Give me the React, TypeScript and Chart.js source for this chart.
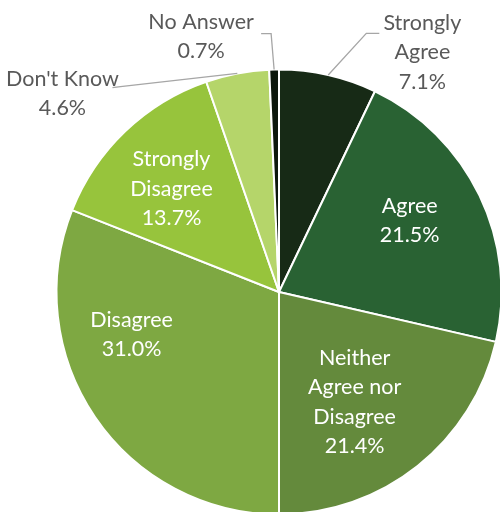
import React, { useEffect, useRef } from "react";
import { Chart, registerables } from "chart.js";

Chart.register(...registerables);

const categories = [
  "Strongly Agree",
  "Agree",
  "Neither Agree nor Disagree",
  "Disagree",
  "Strongly Disagree",
  "Don't Know",
  "No Answer",
];
const values = [7.1, 21.5, 21.4, 31.0, 13.7, 4.6, 0.7];
const labelLines = [
  ["Strongly", "Agree"],
  ["Agree"],
  ["Neither", "Agree nor", "Disagree"],
  ["Disagree"],
  ["Strongly", "Disagree"],
  ["Don't Know"],
  ["No Answer"],
];
const colors = ["#172a16", "#296233", "#648a3c", "#7ea842", "#97c43c", "#b5d56a", "#0c170c"];

// label placement relative to each arc: angle delta (deg) from arc middle, radius fraction, outside flag
const layout = [
  { d: 18.1, r: 1.255, out: true, leader: [[-56, -19], [-43, -19]] },
  { d: -3, r: 0.67, out: false },
  { d: 4, r: 0.6, out: false },
  { d: 18, r: 0.69, out: false },
  { d: -2.4, r: 0.67, out: false },
  { d: -36.7, r: 1.32, out: true, leader: [[58, -7], [50, -6]] },
  { d: -15.7, r: 1.2, out: true, leader: [[70, -3], [60, -3]] },
];

const FONT = "Lato, 'Open Sans', sans-serif";
const LINE_H = 29.3;

const labelPlugin = {
  id: "pieLabels",
  afterDraw(chart: any) {
    const ctx = chart.ctx;
    const meta = chart.getDatasetMeta(0);
    meta.data.forEach((arc: any, i: number) => {
      const { x, y, startAngle, endAngle, outerRadius } = arc.getProps(
        ["x", "y", "startAngle", "endAngle", "outerRadius"],
        true
      );
      const mid = (startAngle + endAngle) / 2;
      const L = layout[i];
      const a = mid + (L.d * Math.PI) / 180;
      const cx = x + Math.cos(a) * outerRadius * L.r;
      const cy = y + Math.sin(a) * outerRadius * L.r;
      ctx.save();
      if (L.out && L.leader) {
        ctx.strokeStyle = "#a6a6a6";
        ctx.lineWidth = 1.3;
        ctx.beginPath();
        ctx.moveTo(x + Math.cos(mid) * outerRadius, y + Math.sin(mid) * outerRadius);
        ctx.lineTo(cx + L.leader[0][0], cy + L.leader[0][1]);
        ctx.lineTo(cx + L.leader[1][0], cy + L.leader[1][1]);
        ctx.stroke();
      }
      const lines = [...labelLines[i], values[i].toFixed(1) + "%"];
      ctx.font = `21.5px ${FONT}`;
      ctx.fillStyle = L.out ? "#595959" : "#ffffff";
      ctx.textAlign = "center";
      ctx.textBaseline = "middle";
      const top = cy - ((lines.length - 1) * LINE_H) / 2;
      lines.forEach((t, k) => ctx.fillText(t, cx, top + k * LINE_H));
      ctx.restore();
    });
  },
};

export default function App() {
  const ref = useRef<HTMLCanvasElement>(null);
  useEffect(() => {
    if (!ref.current) return;
    const chart = new Chart(ref.current, {
      type: "pie",
      data: {
        labels: categories,
        datasets: [
          {
            data: values,
            backgroundColor: colors,
            borderColor: "#ffffff",
            borderWidth: 2,
          },
        ],
      },
      options: {
        responsive: false,
        animation: false,
        radius: 222.5,
        layout: { padding: { left: 58, right: 60, top: 70, bottom: 86 } },
        plugins: { legend: { display: false }, tooltip: { enabled: false } },
      } as any,
      plugins: [labelPlugin],
    });
    return () => chart.destroy();
  }, []);
  return (
    <div
      style={{
        position: "fixed",
        left: 0,
        top: 0,
        width: 500,
        height: 512,
        overflow: "hidden",
        background: "#ffffff",
      }}
    >
      <canvas ref={ref} width={560} height={600} style={{ width: 560, height: 600, display: "block" }} />
    </div>
  );
}
